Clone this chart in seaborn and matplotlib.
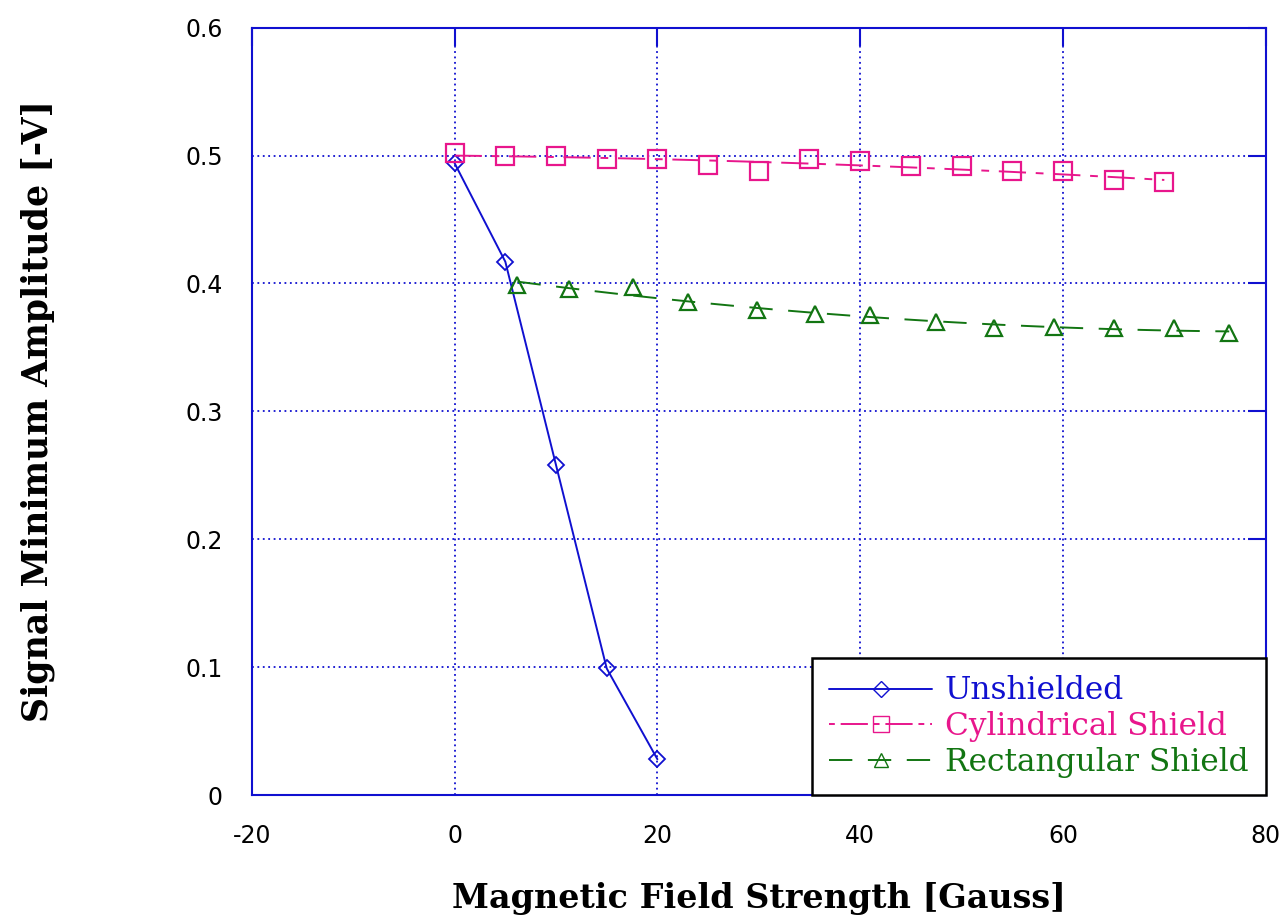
import numpy as np
import pandas as pd
import matplotlib
matplotlib.use("Agg")
import matplotlib.pyplot as plt
import seaborn as sns
from matplotlib.lines import Line2D

# values
unshielded_x = [0, 5, 10, 15, 20]
unshielded_y = [0.494, 0.417, 0.258, 0.099, 0.028]

cyl_x = [0, 5, 10, 15, 20, 25, 30, 35, 40, 45, 50, 55, 60, 65, 70]
cyl_y = [0.502, 0.4995, 0.4995, 0.497, 0.497, 0.493, 0.488, 0.497,
         0.4955, 0.4915, 0.4915, 0.488, 0.488, 0.4805, 0.479]

rect_x = [6.2, 11.3, 17.6, 23.0, 29.8, 35.5, 41.0, 47.5, 53.2, 59.1, 65.0, 71.0, 76.4]
rect_y = [0.399, 0.3955, 0.397, 0.3855, 0.379, 0.376, 0.375, 0.370,
          0.3655, 0.366, 0.365, 0.365, 0.3615]

xticks = [-20, 0, 20, 40, 60, 80]
yticks = [0, 0.1, 0.2, 0.3, 0.4, 0.5, 0.6]

BLUE = "#1010d0"
PINK = "#e8168c"
GREEN = "#127512"

sns.set_style("white")
plt.rcParams["font.family"] = ["DejaVu Sans"]

fig = plt.figure(figsize=(12.85, 9.22), dpi=100)
ax = fig.add_axes([0.196, 0.1377, 0.789, 0.8323])

df_u = pd.DataFrame({"x": unshielded_x, "y": unshielded_y})
df_c = pd.DataFrame({"x": cyl_x, "y": cyl_y})
df_r = pd.DataFrame({"x": rect_x, "y": rect_y})

# unshielded: line through the points
sns.lineplot(data=df_u, x="x", y="y", ax=ax, color=BLUE, lw=1.4,
             marker="D", markersize=8, markerfacecolor="none",
             markeredgecolor=BLUE, markeredgewidth=1.3, legend=False)

# shielded series: fit curves plus open markers
sns.regplot(data=df_c, x="x", y="y", ax=ax, order=2, ci=None, scatter=False,
            line_kws=dict(color=PINK, lw=1.4, dashes=(14, 5, 4, 5)))
sns.regplot(data=df_r, x="x", y="y", ax=ax, order=2, ci=None, scatter=False,
            line_kws=dict(color=GREEN, lw=1.4, dashes=(12, 8)))
ax.plot(cyl_x, cyl_y, ls="none", marker="s", ms=13, mfc="none",
        mec=PINK, mew=1.6)
ax.plot(rect_x, rect_y, ls="none", marker="^", ms=12, mfc="none",
        mec=GREEN, mew=1.6)

ax.set_xlim(-20, 80)
ax.set_ylim(0, 0.6)
ax.set_xticks(xticks)
ax.set_yticks(yticks)
ax.set_xticklabels([str(t) for t in xticks])
ax.set_yticklabels(["0"] + [f"{t:.1f}" for t in yticks[1:]])
ax.tick_params(direction="in", length=13, color=BLUE, width=1.5,
               labelsize=17, labelcolor="black", top=True, right=True, pad=21)
ax.grid(True, color=BLUE, ls=(0, (1, 2)), lw=1.3)
for s in ax.spines.values():
    s.set_color(BLUE)
    s.set_linewidth(1.5)

ax.set_xlabel("Magnetic Field Strength [Gauss]", family="DejaVu Serif",
              fontsize=24, fontweight="bold", color="black", labelpad=24)
ax.set_ylabel("Signal Minimum Amplitude [-V]", family="DejaVu Serif",
              fontsize=25, fontweight="bold", color="black", labelpad=94)

# legend with line+marker handles
handles = [
    Line2D([], [], color=BLUE, lw=1.4, marker="D", ms=8, mfc="none", mec=BLUE),
    Line2D([], [], color=PINK, lw=1.4, dashes=(3, 3, 14, 3), marker="s", ms=11,
           mfc="none", mec=PINK),
    Line2D([], [], color=GREEN, lw=1.4, dashes=(12, 8), marker="^", ms=10,
           mfc="none", mec=GREEN),
]
leg = ax.legend(handles, ["Unshielded", "Cylindrical Shield", "Rectangular Shield"],
                loc="lower right", bbox_to_anchor=(1.0, 0.0), borderaxespad=0,
                fancybox=False, framealpha=1, edgecolor="black",
                prop=dict(family="DejaVu Serif", size=22.5), handlelength=3.3,
                handletextpad=0.4, labelspacing=0.15, borderpad=0.55)
leg.get_frame().set_linewidth(1.8)
for txt, c in zip(leg.get_texts(), [BLUE, PINK, GREEN]):
    txt.set_color(c)

fig.savefig("out.png", dpi=100)
